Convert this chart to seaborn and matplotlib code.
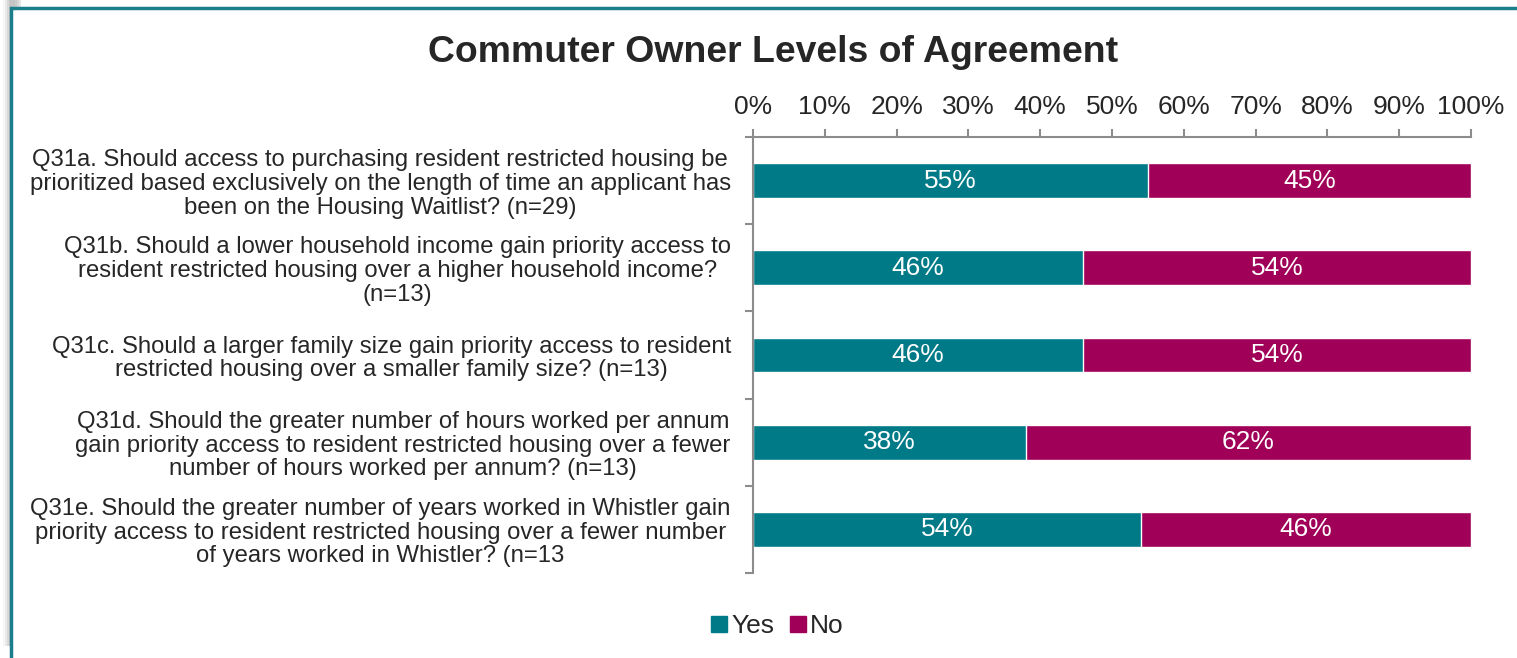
import pandas as pd
import matplotlib.pyplot as plt
import seaborn as sns
from matplotlib.patches import Rectangle
from matplotlib.lines import Line2D

# Survey questions (label lines as they wrap in the original chart)
questions = [
    "Q31a. Should access to purchasing resident restricted housing be\n"
    "prioritized based exclusively on the length of time an applicant has\n"
    "been on the Housing Waitlist? (n=29)",
    "Q31b. Should a lower household income gain priority access to\n"
    "resident restricted housing over a higher household income?\n"
    "(n=13)",
    "Q31c. Should a larger family size gain priority access to resident\n"
    "restricted housing over a smaller family size? (n=13)",
    "Q31d. Should the greater number of hours worked per annum\n"
    "gain priority access to resident restricted housing over a fewer\n"
    "number of hours worked per annum? (n=13)",
    "Q31e. Should the greater number of years worked in Whistler gain\n"
    "priority access to resident restricted housing over a fewer number\n"
    "of years worked in Whistler? (n=13",
]
yes_pct = [55, 46, 46, 38, 54]
no_pct = [45, 54, 54, 62, 46]
x_ticks = [0, 10, 20, 30, 40, 50, 60, 70, 80, 90, 100]

yes_color = '#007A87'
no_color = '#A00058'
axis_grey = '#8C8C8C'
text_color = '#262626'

sns.set_theme(style='white')
plt.rcParams['font.family'] = ['Liberation Sans', 'DejaVu Sans']

df = pd.DataFrame({'q': [f'q{i}' for i in range(len(questions))],
                   'yes': yes_pct, 'no': no_pct})
df['total'] = df['yes'] + df['no']

fig = plt.figure(figsize=(15.17, 6.58), dpi=100)
ax = fig.add_axes([753 / 1517, 1 - 573 / 658, 718 / 1517, 436 / 658])
ax.patch.set_alpha(0)

# stacked bars: full length in "No" colour, "Yes" drawn over it
sns.barplot(data=df, x='total', y='q', orient='h', color=no_color,
            width=0.4, saturation=1, ax=ax)
sns.barplot(data=df, x='yes', y='q', orient='h', color=yes_color,
            width=0.4, saturation=1, ax=ax)

for i, (y, n) in enumerate(zip(yes_pct, no_pct)):
    ax.text(y / 2, i, f'{y}%', color='white', fontsize=19,
            ha='center', va='center')
    ax.text(y + n / 2, i, f'{n}%', color='white', fontsize=19,
            ha='center', va='center')

ax.set_xlim(0, 100)
ax.set_ylim(len(questions) - 0.5, -0.5)
ax.set_xlabel('')
ax.set_ylabel('')

# x axis on top
ax.xaxis.tick_top()
ax.set_xticks(x_ticks)
ax.set_xticklabels([f'{t}%' for t in x_ticks], fontsize=19, color=text_color)
ax.tick_params(axis='x', which='major', direction='out', length=6,
               width=1.5, color=axis_grey, pad=7, top=True, bottom=False)

# y labels at bar centres, tick marks at category boundaries
ax.set_yticks(range(len(questions)))
ax.set_yticklabels(questions, fontsize=17.2, color=text_color,
                   multialignment='center', linespacing=1.1)
ax.tick_params(axis='y', which='major', length=0, pad=16)
ax.set_yticks([i - 0.5 for i in range(len(questions) + 1)], minor=True)
ax.tick_params(axis='y', which='minor', direction='out', length=6,
               width=1.5, color=axis_grey, left=True)

for side in ['bottom', 'right']:
    ax.spines[side].set_visible(False)
for side in ['top', 'left']:
    ax.spines[side].set_color(axis_grey)
    ax.spines[side].set_linewidth(1.5)

fig.text(773 / 1517, 1 - 52 / 658, 'Commuter Owner Levels of Agreement',
         fontsize=26.9, fontweight='bold', color=text_color,
         ha='center', va='center')

handles = [Line2D([], [], marker='s', linestyle='', markersize=12,
                  color=c) for c in [yes_color, no_color]]
fig.legend(handles, ['Yes', 'No'], loc='center',
           bbox_to_anchor=(776 / 1517, 1 - 626 / 658), ncol=2, frameon=False,
           fontsize=19, handletextpad=0.05, columnspacing=0.5,
           handlelength=0.8, labelcolor=text_color)

# chart frame with a soft shadow on the left
for k, a in enumerate([0.05, 0.08, 0.12, 0.16]):
    fig.patches.append(Rectangle((3 + 2 * k, 12), 12, 700, transform=None,
                                 facecolor='#606060', alpha=a, edgecolor='none',
                                 zorder=-3))
fig.patches.append(Rectangle((11, -20), 1600, 670, transform=None,
                             facecolor='white', edgecolor='#1B7E8C',
                             linewidth=2.5, zorder=-2))

fig.savefig('out.png', dpi=100)
